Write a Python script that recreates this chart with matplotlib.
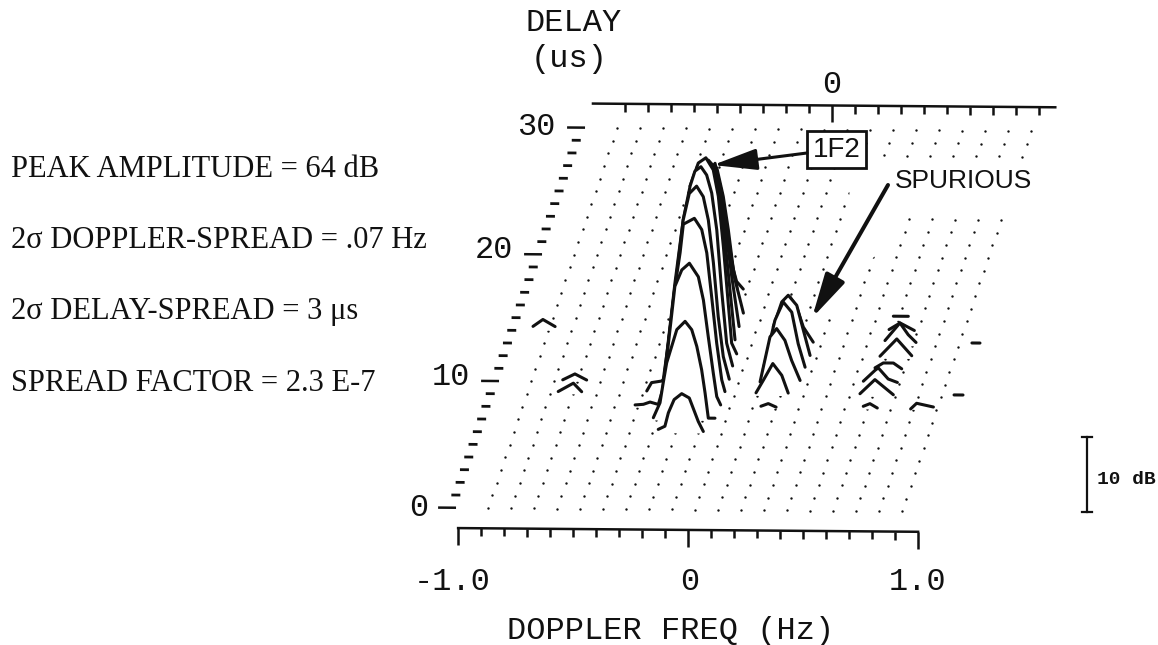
#!/bin/python

import matplotlib
matplotlib.use("Agg")
import matplotlib.pyplot as plt
from matplotlib.patches import Polygon, Rectangle
import numpy as np

# traces: doppler (Hz) and level above floor (dB), one pair per delay row (us)
# 1F2 mode
f_06 = [-0.272, -0.243, -0.228, -0.203, -0.170, -0.137, -0.112, -0.098, -0.076]
db_06 = [0.5, 0.93, 2.72, 4.49, 5.29, 4.72, 2.72, 1.6, 0.27]
f_07 = [-0.312, -0.283, -0.269, -0.254, -0.232, -0.210, -0.174, -0.145, -0.123, -0.102, -0.087, -0.073, -0.044]
db_07 = [0.36, 2.36, 5.03, 7.69, 9.91, 12.13, 13.24, 12.13, 9.91, 6.8, 3.69, 0.36, 0.36]
f_08 = [-0.410, -0.374, -0.345, -0.309, -0.290, -0.273, -0.237, -0.207, -0.174, -0.135, -0.113, -0.092, -0.070, -0.055, -0.038]
db_08 = [0.35, 0.44, 0.75, 0.44, 2.44, 6.44, 16.2, 18.4, 19.3, 17.5, 14.4, 9.55, 4.67, 1.55, 0.44]
f_09 = [-0.378, -0.357, -0.313, -0.306, -0.284, -0.255, -0.233, -0.219, -0.171, -0.139, -0.117, -0.096, -0.074, -0.052, -0.038]
db_09 = [0.53, 1.65, 1.87, 2.09, 6.99, 14.5, 19.0, 22.8, 23.6, 22.1, 19.0, 13.2, 7.0, 2.09, 0.53]
f_10 = [-0.317, -0.274, -0.238, -0.212, -0.180, -0.151, -0.129, -0.107, -0.086, -0.064, -0.038]
db_10 = [1.73, 13.3, 21.7, 25.2, 26.2, 24.8, 21.7, 16.0, 8.84, 3.5, 0.49]
f_11 = [-0.322, -0.257, -0.227, -0.206, -0.180, -0.155, -0.133, -0.111, -0.090, -0.068, -0.042]
db_11 = [3.15, 20.0, 24.5, 26.5, 27.1, 26.0, 23.6, 18.7, 10.7, 3.6, 0.57]
f_12 = [-0.246, -0.210, -0.177, -0.145, -0.123, -0.101, -0.080, -0.065, -0.043]
db_12 = [22.8, 25.9, 26.6, 25.0, 21.5, 14.8, 7.27, 1.92, 0.49]
f_13 = [-0.221, -0.185, -0.156, -0.134, -0.113, -0.091, -0.069]
db_13 = [23.3, 24.6, 23.6, 19.8, 14.0, 7.33, 0.67]
f_14 = [-0.226, -0.197, -0.167, -0.146, -0.124, -0.102, -0.070]
db_14 = [21.6, 22.5, 21.2, 17.2, 12.7, 7.41, 0.75]
f_15 = [-0.230, -0.203, -0.179, -0.157, -0.136, -0.114, -0.088, -0.070]
db_15 = [19.7, 20.6, 18.9, 15.1, 10.6, 6.19, 3.07, 0.85]
f_16 = [-0.234, -0.212, -0.183, -0.161, -0.140, -0.118, -0.107]
db_16 = [17.8, 19.1, 15.2, 10.7, 6.27, 2.71, 0.71]
f_17 = [-0.238, -0.223, -0.195, -0.173, -0.151, -0.137, -0.108]
db_17 = [16.1, 16.8, 13.0, 8.57, 3.24, 1.68, 0.67]

# spurious line
sp_f_08 = [0.137, 0.169, 0.203]
sp_db_08 = [0.31, 0.67, 0.21]
sp_f_09 = [0.097, 0.129, 0.170, 0.209, 0.237]
sp_db_09 = [0.4, 2.09, 4.32, 2.76, 0.4]
sp_f_10 = [0.096, 0.139, 0.168, 0.204, 0.233, 0.270]
sp_db_10 = [0.17, 6.17, 7.29, 5.73, 3.07, 0.4]
sp_f_11 = [0.091, 0.142, 0.178, 0.215, 0.243, 0.273]
sp_db_11 = [0.13, 6.71, 9.15, 7.8, 3.6, 0.48]
sp_f_12 = [0.116, 0.153, 0.181, 0.218, 0.247, 0.276]
sp_db_12 = [4.13, 7.47, 8.36, 7.03, 3.69, 0.36]
sp_f_13 = [0.170, 0.199, 0.228, 0.271]
sp_db_13 = [6.44, 5.11, 2.44, 0.44]

# cluster on the right
r_f_08a = [0.582, 0.611, 0.643]
r_db_08a = [0.41, 0.77, 0.2]
r_f_08b = [0.788, 0.814, 0.887]
r_db_08b = [0.11, 0.87, 0.39]
r_f_09 = [0.549, 0.614, 0.694]
r_db_09 = [0.39, 2.29, 0.29]
r_f_10 = [0.545, 0.596, 0.610, 0.653, 0.693]
r_db_10 = [0.37, 1.84, 2.16, 0.69, 0.24]
r_f_11 = [0.577, 0.613, 0.657, 0.693]
r_db_11 = [0.47, 1.13, 1.13, 0.37]
r_f_12 = [0.580, 0.653, 0.718]
r_db_12 = [0.33, 2.65, 0.43]
r_f_13 = [0.583, 0.648, 0.684, 0.718]
r_db_13 = [0.73, 3.09, 1.53, 0.51]
r_f_14 = [0.582, 0.630, 0.692]
r_db_14 = [0.51, 1.4, 0.41]
r_f_15 = [0.582, 0.647]
r_db_15 = [0.6, 0.6]

# stray bits
s_f_09 = [-0.763, -0.697, -0.661]
s_db_09 = [0.36, 1.49, 0.36]
s_f_10 = [-0.762, -0.709, -0.658]
s_db_10 = [0.23, 1.03, 0.23]
s_f_14 = [-0.966, -0.923, -0.870]
s_db_14 = [0.55, 1.48, 0.55]
s_f_09b = [0.958, 0.997]
s_db_09b = [0.33, 0.33]
s_f_13b = [0.961, 0.996]
s_db_13b = [0.5, 0.5]

traces = [
    (6, f_06, db_06), (7, f_07, db_07), (8, f_08, db_08), (9, f_09, db_09),
    (10, f_10, db_10), (11, f_11, db_11), (12, f_12, db_12), (13, f_13, db_13),
    (14, f_14, db_14), (15, f_15, db_15), (16, f_16, db_16), (17, f_17, db_17),
    (8, sp_f_08, sp_db_08), (9, sp_f_09, sp_db_09), (10, sp_f_10, sp_db_10),
    (11, sp_f_11, sp_db_11), (12, sp_f_12, sp_db_12), (13, sp_f_13, sp_db_13),
    (8, r_f_08a, r_db_08a), (8, r_f_08b, r_db_08b), (9, r_f_09, r_db_09),
    (10, r_f_10, r_db_10), (11, r_f_11, r_db_11), (12, r_f_12, r_db_12),
    (13, r_f_13, r_db_13), (14, r_f_14, r_db_14), (15, r_f_15, r_db_15),
    (9, s_f_09, s_db_09), (10, s_f_10, s_db_10), (14, s_f_14, s_db_14),
    (9, s_f_09b, s_db_09b), (13, s_f_13b, s_db_13b),
]

info_lines = ["PEAK AMPLITUDE = 64 dB", "2σ DOPPLER-SPREAD = .07 Hz",
              "2σ DELAY-SPREAD = 3 μs", "SPREAD FACTOR = 2.3 E-7"]
grid_doppler = np.arange(-9, 10) / 10
grid_delay = np.arange(0, 31)
delay_labels = [0, 10, 20, 30]

MONO = "Liberation Mono"
INK = "#111111"


# doppler, delay, level -> picture position
def proj(f, d, db=0):
    f = np.asarray(f, dtype=float)
    db = np.asarray(db, dtype=float)
    x = 695 + 230 * f + 4.3 * d
    y = 508 + 1.85 * (f + 0.9) - 12.67 * d - 7.5 * db
    return x, y


fig = plt.figure(figsize=(11.58, 6.45), dpi=100, facecolor="white")
ax = fig.add_axes([0, 0, 1, 1])
ax.set_xlim(0, 1158)
ax.set_ylim(645, 0)
ax.axis("off")

# dot grid
for d in grid_delay:
    x, y = proj(grid_doppler, d)
    ax.scatter(x, y, s=3, color=INK, linewidths=0, zorder=1)

# pasted patches over the grid, text and arrow
ax.add_patch(Polygon([(852, 160), (1040, 160), (1040, 212), (905, 212), (885, 245),
                      (860, 272), (836, 310), (812, 315), (838, 262), (848, 212)],
                     facecolor="white", edgecolor="none", zorder=1.5))

# traces back to front, white under each one hides what is behind
order = sorted(traces, key=lambda t: -t[0])
for i, (d, f, db) in enumerate(order):
    x, y = proj(f, d, db)
    bx, by = proj(f, d)
    ax.fill(np.r_[x, bx[::-1]], np.r_[y, by[::-1]], color="white", lw=0, zorder=2 + i * 0.01)
    ax.plot(x, y, color=INK, lw=2.2, solid_capstyle="round", solid_joinstyle="round",
            zorder=2 + i * 0.01 + 0.005)

# delay axis
for d in grid_delay:
    length = 0.078 if d % 10 == 0 else 0.039
    x, y = proj([-1.039 - length, -1.039], d)
    ax.plot(x, y, color=INK, lw=2.0 if d % 10 else 1.8, solid_capstyle="butt", zorder=3)

# doppler axis at the bottom and its copy at the top
for d_axis, f_ends, tick_f in [(-1.6, (-1.0, 1.0), np.arange(-10, 11) / 10),
                               (31.9, (-1.04, 0.97), np.arange(-9, 10) / 10)]:
    x, y = proj(f_ends, d_axis)
    ax.plot(x, y, color=INK, lw=1.8, solid_capstyle="projecting", zorder=3)
    for t in tick_f:
        tx, ty = proj(t, d_axis)
        big = t == 0 or abs(t) == 1.0
        ax.plot([tx, tx], [ty, ty + (17 if big else 8)], color=INK, lw=1.8,
                solid_capstyle="butt", zorder=3)

# 10 dB bar
ax.plot([1087, 1087], [437, 512], color=INK, lw=1.6, zorder=3)
for yb in (437, 512):
    ax.plot([1082, 1092], [yb, yb], color=INK, lw=1.6, zorder=3)
ax.text(1097, 480, "10 dB", family=MONO, fontsize=14, fontweight="bold", va="center", ha="left", color=INK)

# labels
txt = dict(family=MONO, fontsize=23, color=INK)
ax.text(525, 23, "DELAY", va="center", ha="left", **txt)
ax.text(531, 59, "(us)", va="center", ha="left", **txt)
ax.text(832, 85, "0", va="center", ha="center", **txt)
for lab, xr, yc in zip(delay_labels, (428, 470, 513, 556), (508, 377, 250, 127)):
    ax.text(xr, yc, str(lab), va="center", ha="right", **txt)
ax.text(452, 582, "-1.0", va="center", ha="center", **txt)
ax.text(690, 582, "0", va="center", ha="center", **txt)
ax.text(918, 582, "1.0", va="center", ha="center", **txt)
ax.text(671, 631, "DOPPLER FREQ (Hz)", va="center", ha="center", **txt)

for line, yb in zip(info_lines, (176.7, 248, 319, 390.7)):
    ax.text(11, yb, line, family="Liberation Serif", fontsize=22, va="baseline", ha="left", color=INK)

# 1F2 callout
ax.add_patch(Rectangle((807, 131), 59, 37, facecolor="white", edgecolor=INK, lw=2.0, zorder=5))
ax.text(836.5, 150, "1F2", family="Liberation Sans", fontsize=20, va="center", ha="center", color=INK, zorder=6)
ax.annotate("", xy=(713, 165), xytext=(807, 153), zorder=5,
            arrowprops=dict(arrowstyle="-|>,head_length=27,head_width=6.5", mutation_scale=1,
                            color=INK, lw=2.2, shrinkA=0, shrinkB=0))

# spurious callout
ax.text(895, 181, "SPURIOUS", family="Liberation Sans", fontsize=19, va="center", ha="left", color=INK, zorder=6)
ax.annotate("", xy=(812, 318), xytext=(888, 185), zorder=5,
            arrowprops=dict(arrowstyle="-|>,head_length=27,head_width=6.5", mutation_scale=1,
                            color=INK, lw=2.9, shrinkA=0, shrinkB=0))

plt.savefig("out.png", dpi=100)
